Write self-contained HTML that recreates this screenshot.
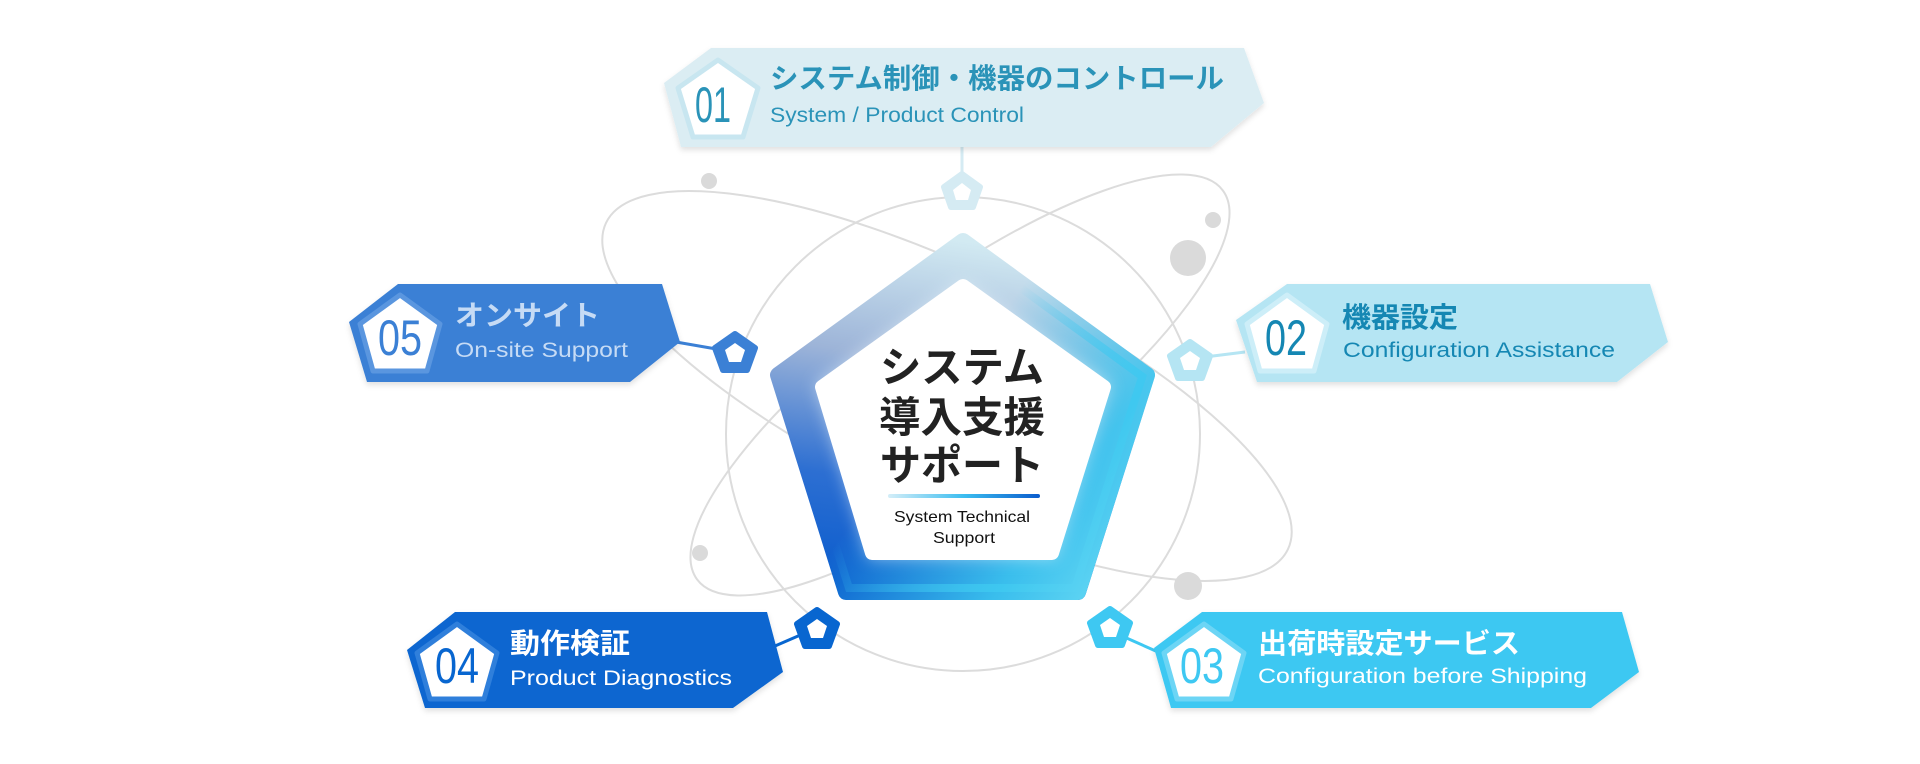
<!DOCTYPE html>
<html><head><meta charset="utf-8"><style>
html,body{margin:0;padding:0;background:#fff;}
svg{display:block}
.jp{font-family:"Liberation Sans","Noto Sans CJK JP",sans-serif;font-weight:700}
.en{font-family:"Liberation Sans","DejaVu Sans",sans-serif}
.num{font-family:"Liberation Sans",sans-serif;font-weight:400}
</style></head><body>
<svg width="1920" height="764" viewBox="0 0 1920 764" xmlns="http://www.w3.org/2000/svg">
<defs>
<linearGradient id="g1" x1="0.5" y1="0" x2="0.35" y2="1">
<stop offset="0" stop-color="#d2eaf2"/><stop offset="0.35" stop-color="#9db4d8"/><stop offset="0.7" stop-color="#2d6fd2"/><stop offset="1" stop-color="#0a5ccd"/></linearGradient>
<linearGradient id="g2" x1="0.2" y1="0.2" x2="1" y2="0.75">
<stop offset="0.35" stop-color="#3ec8f0" stop-opacity="0"/><stop offset="0.8" stop-color="#3ec8f0" stop-opacity="0.9"/><stop offset="1" stop-color="#5ad2f2" stop-opacity="1"/></linearGradient>
<linearGradient id="bar" x1="0" y1="0" x2="1" y2="0">
<stop offset="0" stop-color="#d4eef8"/><stop offset="0.5" stop-color="#3bbdf0"/><stop offset="1" stop-color="#0a5ccd"/></linearGradient>
<filter id="blur" x="-20%" y="-20%" width="140%" height="140%"><feGaussianBlur stdDeviation="8"/></filter>
<filter id="sh" x="-10%" y="-20%" width="120%" height="150%"><feDropShadow dx="0" dy="3" stdDeviation="3" flood-color="#000" flood-opacity="0.12"/></filter>
</defs>

<g fill="none" stroke="#dcdcdc" stroke-width="2">
<circle cx="963" cy="434" r="237"/>
<ellipse cx="947" cy="386" rx="378" ry="118" transform="rotate(25.6 947 386)"/>
<ellipse cx="960" cy="385" rx="327" ry="100" transform="rotate(-36.5 960 385)"/>
<line x1="962" y1="147" x2="962" y2="175" stroke="#d5ebf3" stroke-width="3"/>
</g>
<g fill="#dadada">
<circle cx="709" cy="181" r="8"/><circle cx="1213" cy="220" r="8"/><circle cx="1188" cy="258" r="18"/>
<circle cx="700" cy="553" r="8"/><circle cx="1188" cy="586" r="14"/>
</g>

<g stroke-width="3">
<line x1="676" y1="342" x2="722" y2="350" stroke="#3b80d5"/>
<line x1="1205" y1="357" x2="1245" y2="352" stroke="#b5e5f3"/>
<line x1="775" y1="646" x2="805" y2="633" stroke="#0866d0"/>
<line x1="1122" y1="636" x2="1158" y2="652" stroke="#3ec8f2"/>
</g>

<g stroke-linejoin="round">
<polygon points="962,174 980,187 973,207 951,207 944,187" fill="#d5ebf3" stroke="#d5ebf3" stroke-width="6"/>
<polygon points="962,183 971,190 968,200 956,200 953,190" fill="#fff"/>
<polygon points="735,334 755,348 747,370 723,370 715,348" fill="#3b80d5" stroke="#3b80d5" stroke-width="6"/>
<polygon points="735,343 745,350 741,362 729,362 725,350" fill="#fff"/>
<polygon points="1190,342 1210,356 1202,378 1178,378 1170,356" fill="#b5e5f3" stroke="#b5e5f3" stroke-width="6"/>
<polygon points="1190,351 1200,358 1196,370 1184,370 1180,358" fill="#fff"/>
<polygon points="817,610 837,624 829,646 805,646 797,624" fill="#0866d0" stroke="#0866d0" stroke-width="6"/>
<polygon points="817,619 827,626 823,638 811,638 807,626" fill="#fff"/>
<polygon points="1110,609 1130,623 1122,645 1098,645 1090,623" fill="#3ec8f2" stroke="#3ec8f2" stroke-width="6"/>
<polygon points="1110,618 1120,625 1116,637 1104,637 1100,625" fill="#fff"/>
</g>

<g stroke-linejoin="round">
<polygon points="963,241 1147,375 1078,592 846,592 778,375" fill="url(#g1)" stroke="url(#g1)" stroke-width="16"/>
<polygon points="963,241 1147,375 1078,592 846,592 778,375" fill="url(#g2)" stroke="url(#g2)" stroke-width="16"/>
<polygon points="963,280 1110,384 1055,558 869,558 816,384" fill="#e8f4fa" opacity="0.6" filter="url(#blur)"/>
<polygon points="963,286 1104,387 1052,553 872,553 822,387" fill="#fff" stroke="#fff" stroke-width="14"/>
</g>
<g class="jp" fill="#222" font-size="42" text-anchor="middle">
<text x="962" y="382" textLength="164" lengthAdjust="spacingAndGlyphs">システム</text>
<text x="962" y="432" textLength="166" lengthAdjust="spacingAndGlyphs">導入支援</text>
<text x="962" y="480" textLength="164" lengthAdjust="spacingAndGlyphs">サポート</text>
</g>
<rect x="888" y="494" width="152" height="4" rx="2" fill="url(#bar)"/>
<g class="en" fill="#111" font-size="16" text-anchor="middle">
<text x="962" y="522" textLength="136" lengthAdjust="spacingAndGlyphs">System Technical</text>
<text x="964" y="543" textLength="62" lengthAdjust="spacingAndGlyphs">Support</text>
</g>

<g filter="url(#sh)" stroke-linejoin="round">
<polygon points="664,83 711,48 1244,48 1264,103 1211,147 681,147" fill="#dbedf3"/>
<polygon points="349,322 398,284 662,284 680,342 630,382 367,382" fill="#3b80d5"/>
<polygon points="1236,320 1287,284 1650,284 1668,342 1617,382 1257,382" fill="#b5e5f3"/>
<polygon points="407,650 455,612 767,612 783,672 733,708 425,708" fill="#0866d0"/>
<polygon points="1154,648 1202,612 1622,612 1639,672 1591,708 1171,708" fill="#3ec8f2"/>
</g>
<g fill="#fff" stroke-linejoin="round" stroke-width="5">
<polygon points="718,60 758,88 743,137 693,137 678,88" stroke="#c8e6f0"/>
<polygon points="400,295 440,324 427,371 373,371 360,324" stroke="#5a96df"/>
<polygon points="1287,295 1327,324 1314,371 1260,371 1247,324" stroke="#cdeef8"/>
<polygon points="457,624 497,653 484,699 430,699 417,653" stroke="#2f7fdb"/>
<polygon points="1204,624 1244,653 1231,699 1177,699 1164,653" stroke="#6cd5f5"/>
</g>
<g class="num" font-size="50" text-anchor="middle">
<text x="713" y="122" fill="#2a93b8" textLength="36" lengthAdjust="spacingAndGlyphs">01</text>
<text x="400" y="355" fill="#3b80d5" textLength="44" lengthAdjust="spacingAndGlyphs">05</text>
<text x="1286" y="355" fill="#1587b3" textLength="42" lengthAdjust="spacingAndGlyphs">02</text>
<text x="457" y="683" fill="#0866d0" textLength="44" lengthAdjust="spacingAndGlyphs">04</text>
<text x="1202" y="683" fill="#3ec8f2" textLength="44" lengthAdjust="spacingAndGlyphs">03</text>
</g>
<g class="jp" font-size="28">
<text x="770" y="88" fill="#2a93b8" textLength="454" lengthAdjust="spacingAndGlyphs">システム制御・機器のコントロール</text>
<text x="455" y="325" fill="#c6dbf5" textLength="145" lengthAdjust="spacingAndGlyphs">オンサイト</text>
<text x="1342" y="327" fill="#1587b3" textLength="116" lengthAdjust="spacingAndGlyphs">機器設定</text>
<text x="510" y="653" fill="#fff" textLength="120" lengthAdjust="spacingAndGlyphs">動作検証</text>
<text x="1258" y="653" fill="#fff" textLength="262" lengthAdjust="spacingAndGlyphs">出荷時設定サービス</text>
</g>
<g class="en" font-size="21">
<text x="770" y="122" fill="#2a93b8" textLength="254" lengthAdjust="spacingAndGlyphs">System / Product Control</text>
<text x="455" y="357" fill="#c6dbf5" textLength="173" lengthAdjust="spacingAndGlyphs">On-site Support</text>
<text x="1343" y="357" fill="#1587b3" textLength="272" lengthAdjust="spacingAndGlyphs">Configuration Assistance</text>
<text x="510" y="685" fill="#fff" textLength="222" lengthAdjust="spacingAndGlyphs">Product Diagnostics</text>
<text x="1258" y="683" fill="#fff" textLength="329" lengthAdjust="spacingAndGlyphs">Configuration before Shipping</text>
</g>
</svg>
</body></html>
